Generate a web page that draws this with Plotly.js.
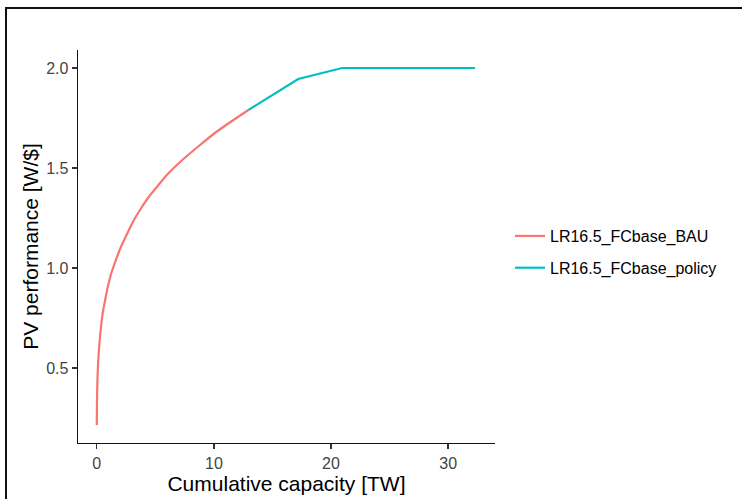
<!DOCTYPE html>
<html>
<head>
<meta charset="utf-8">
<script src="https://cdn.plot.ly/plotly-3.0.1.min.js"></script>
<style>
  html, body { margin: 0; padding: 0; background: #fff; overflow: hidden; }
  #chart { width: 742px; height: 499px; position: absolute; left: 0; top: 0; }
  #frame { position: absolute; left: 5px; top: 7px; width: 800px; height: 600px;
           border-left: 2px solid #111; border-top: 2px solid #111; pointer-events: none; }
</style>
</head>
<body>
<div id="chart"></div>
<div id="frame"></div>
<script>
// Series
const bauName = "LR16.5_FCbase_BAU";
const bauX = [0.004, 0.02, 0.05, 0.085, 0.12, 0.2, 0.3, 0.43, 0.55, 0.65, 0.8, 0.94, 1.2, 1.42, 1.99, 2.5, 3.13, 3.8, 4.5, 5.2, 5.98, 7.4, 8.82, 10.2, 11.67, 12.95];
const bauY = [0.215, 0.33, 0.42, 0.48, 0.53, 0.60, 0.67, 0.74, 0.79, 0.82, 0.865, 0.905, 0.965, 1.005, 1.095, 1.16, 1.235, 1.30, 1.36, 1.41, 1.465, 1.545, 1.615, 1.68, 1.74, 1.79];

const policyName = "LR16.5_FCbase_policy";
const policyX = [12.95, 17.2, 20.95, 32.3];
const policyY = [1.79, 1.945, 2.0, 2.0];

const xTicks = [0, 10, 20, 30];
const yTicks = [0.5, 1.0, 1.5, 2.0];
const yTickText = ["0.5", "1.0", "1.5", "2.0"];

const FONT = "Liberation Sans, Arial, sans-serif";

const traces = [
  { x: bauX, y: bauY, name: bauName, type: "scatter", mode: "lines",
    line: { color: "#F8766D", width: 2.2, shape: "spline", smoothing: 0.6 },
    legendgroup: "a" },
  { x: policyX, y: policyY, name: policyName, type: "scatter", mode: "lines",
    line: { color: "#00BFC4", width: 2.2 },
    legendgroup: "b" }
];

const layout = {
  width: 742, height: 499,
  margin: { l: 78, r: 247, t: 50, b: 56 },
  paper_bgcolor: "#fff", plot_bgcolor: "#fff",
  font: { family: FONT, color: "#000" },
  showlegend: true,
  legend: {
    x: 1.036, xanchor: "left", y: 0.486, yanchor: "middle",
    font: { family: FONT, size: 16, color: "#000" },
    traceorder: "grouped", tracegroupgap: 8,
    bgcolor: "rgba(0,0,0,0)"
  },
  xaxis: {
    range: [-1.6, 34.0],
    tickvals: xTicks, ticktext: xTicks.map(String),
    showgrid: false, zeroline: false,
    showline: true, linecolor: "#111", linewidth: 1.4,
    ticks: "outside", ticklen: 5, tickwidth: 1.4, tickcolor: "#333",
    tickfont: { family: FONT, size: 16, color: "#444" },
    title: { text: "Cumulative capacity [TW]", font: { family: FONT, size: 21, color: "#000" }, standoff: 3 }
  },
  yaxis: {
    range: [0.125, 2.09],
    tickvals: yTicks, ticktext: yTickText,
    showgrid: false, zeroline: false,
    showline: true, linecolor: "#111", linewidth: 1.4,
    ticks: "outside", ticklen: 5, tickwidth: 1.4, tickcolor: "#333",
    tickfont: { family: FONT, size: 16, color: "#444" },
    title: { text: "PV performance [W/$]", font: { family: FONT, size: 21, color: "#000" }, standoff: 2 }
  }
};

Plotly.newPlot("chart", traces, layout, { staticPlot: true, displayModeBar: false });
</script>
</body>
</html>
